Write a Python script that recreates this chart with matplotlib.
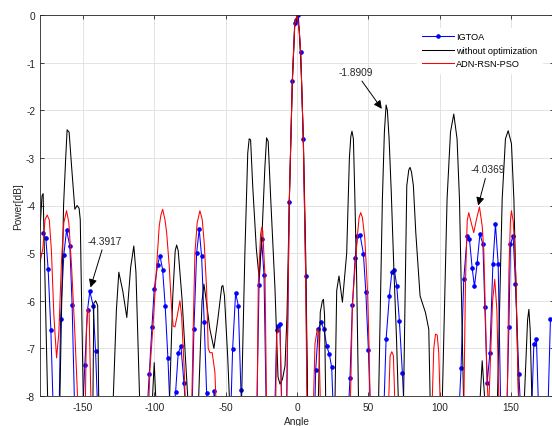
import matplotlib
matplotlib.use("Agg")
import matplotlib.pyplot as plt
import numpy as np

plt.rcParams['font.family'] = ['Liberation Sans', 'DejaVu Sans']
plt.rcParams['axes.unicode_minus'] = False

# (angle, power dB); values under -8 just run off the axes
plain_pts = np.array([
    (-180, -4.5), (-178.6, -3.8), (-177.8, -3.75), (-176.2, -6.0), (-174.6, -8.1), (-172, -9.5),
    (-166.3, -8.4), (-163.5, -4.0), (-162, -3.0), (-161, -2.41), (-159.6, -2.46),
    (-157.9, -3.17), (-155.6, -4.08), (-154, -4.0), (-152.6, -4.06), (-151.8, -4.3),
    (-150.9, -5.97), (-149.6, -8.2),
    (-146, -9.5), (-143, -8.3), (-142.3, -6.05), (-141, -6.0), (-139.6, -6.1), (-138.8, -8.3),
    (-134, -9.5), (-129, -8.3), (-126.5, -6.2), (-124.8, -5.4), (-122, -5.8), (-119.2, -6.35),
    (-116.5, -5.3), (-114.3, -4.85), (-112.8, -5.4), (-110, -8.3),
    (-106, -9.5), (-101.5, -8.2), (-100, -7.3), (-98.7, -8.2),
    (-94, -9.5), (-89.5, -8.3), (-87, -5.9), (-85.3, -4.95), (-84.3, -4.83), (-83.2, -4.95),
    (-80.5, -5.97), (-77.5, -7.5), (-76, -8.3),
    (-72, -9.5), (-69.2, -8.3), (-66.5, -6.0), (-65.2, -5.65), (-64, -5.9), (-61, -6.6),
    (-58.2, -7.0), (-55.5, -6.4), (-52.7, -5.7), (-51.9, -5.68), (-50.8, -5.9), (-48.5, -7.2),
    (-47, -8.3),
    (-43, -9.5), (-39, -8.3), (-36.5, -5.0), (-34.5, -2.9), (-33.5, -2.6), (-32.5, -2.62),
    (-31, -3.6), (-28.5, -4.9), (-26.6, -5.5), (-24.5, -4.6), (-22.5, -3.2), (-21.3, -2.58),
    (-20.2, -2.65), (-18.5, -3.8), (-15.4, -5.76), (-13.3, -7.6), (-11.9, -7.75),
    (-10.2, -7.65), (-8.4, -7.37),
    (-7, -6.3), (-5.4, -3.95), (-3.3, -1.45), (-1.6, -0.25), (0, 0), (1.5, -0.3), (3, -1.2),
    (4.6, -2.8), (6.2, -5.2), (7.2, -7.5), (8, -9.5),
    (12, -9.5), (14.8, -8.3), (16.3, -6.24), (17.8, -6.0), (18.5, -5.97), (19.3, -6.3),
    (20.2, -8.3),
    (23, -9.5), (26.5, -8.3), (27.8, -5.79), (29.4, -5.48), (31.8, -6.03), (34.8, -5.0),
    (36.7, -3.0), (37.7, -2.55), (38.5, -2.44), (39.5, -2.6), (40.5, -3.8), (41.8, -5.55),
    (43.2, -8.3),
    (48, -9.5), (54, -9.5), (57, -8.3), (59.8, -3.87), (61.2, -2.46), (62.4, -1.89),
    (63.3, -2.0), (64.5, -2.6), (66, -3.7), (67.8, -5.3), (69.7, -6.8), (71.2, -8.3),
    (73, -9.3), (74.5, -8.3), (76.9, -3.58), (78.3, -3.25), (79.2, -3.2), (80.2, -3.3),
    (81.5, -3.58), (83.2, -4.57), (86.2, -5.9), (87.8, -6.05), (90, -6.25), (92.3, -6.6),
    (93.4, -8.3),
    (97, -9.5), (101.6, -8.3), (105.1, -3.87), (107.5, -2.46), (109.8, -2.08), (112.1, -2.6),
    (113.8, -3.87), (116.8, -8.3),
    (122, -9.5), (127.8, -8.3), (129.7, -7.26), (132, -8.3),
    (136, -9.5), (140.2, -8.3), (143.7, -3.87), (146, -2.6), (147.9, -2.43), (150.2, -2.7),
    (151.9, -3.87), (155.4, -8.3),
    (157, -9.5), (158.9, -8.3), (161.5, -6.4), (162.4, -6.18), (163.3, -6.6), (164.7, -8.3),
    (170, -9.5), (180, -9.5),
])

pso_pts = np.array([
    (-180, -5.2), (-178, -4.9), (-176.5, -4.3), (-175, -4.2), (-173.5, -4.3), (-172, -4.95),
    (-170.3, -6.3), (-168.4, -7.2), (-166.8, -6.67), (-164.9, -5.13), (-163.3, -4.36),
    (-161.4, -4.11), (-159.8, -4.36), (-157.9, -5.27), (-155.6, -6.67), (-153.3, -8.3),
    (-150.5, -9.5), (-148.3, -8.3), (-147.5, -6.6), (-146.7, -6.16), (-145.6, -6.25),
    (-144.2, -8.3),
    (-140, -9.5), (-110, -9.5), (-104, -8.3), (-103, -7.44), (-100.7, -6.46), (-98.3, -5.27),
    (-96.5, -4.43), (-95.3, -4.2), (-94.1, -4.08), (-92.5, -4.29), (-91.3, -4.57),
    (-89.5, -5.27), (-87.8, -6.18), (-86.7, -6.53), (-85.5, -6.55), (-83.9, -6.32),
    (-82, -6.0), (-80.8, -6.32), (-79, -7.44), (-78, -8.3),
    (-76, -9.5), (-73.8, -8.3), (-72.7, -6.6), (-71.5, -5.0), (-69.9, -4.36), (-68, -4.11),
    (-66.4, -4.29), (-65, -4.78), (-63.3, -5.76), (-62.2, -7.0), (-61, -7.09), (-59.4, -7.09),
    (-57.5, -7.5), (-56.5, -8.3),
    (-50, -9.5), (-30, -9.5), (-28, -8.3), (-27.1, -5.65), (-25.5, -4.6), (-24.7, -4.46),
    (-24, -4.53), (-22.4, -5.5), (-21.3, -8.3),
    (-18, -9.5), (-15, -8.3), (-14.2, -6.7), (-13, -6.6), (-11.9, -6.65), (-10.7, -8.3),
    (-9, -9.0), (-7.2, -8.0), (-5.4, -3.9), (-3.3, -1.4), (-1.6, -0.2), (0, 0), (1.5, -0.3),
    (2.6, -0.8), (4.4, -2.6), (6.1, -5.5), (7, -8.3),
    (9, -9.5), (11.4, -8.3), (12.6, -6.9), (14.2, -6.6), (15.2, -6.65), (16.5, -8.3),
    (20, -9.5), (34, -9.5), (37.3, -8.3), (38.8, -6.1), (40.7, -5.27), (42.5, -4.57),
    (43.5, -4.25), (44.6, -4.15), (45.8, -4.25), (47.5, -4.7), (49.4, -5.8), (50.5, -7.0),
    (51.3, -8.3),
    (56, -9.5), (64, -8.3), (65.2, -7.16), (66.4, -7.07), (67.5, -7.15), (68.7, -8.3),
    (72, -9.5), (91, -9.5), (94.5, -8.3), (95.8, -7.0), (97, -6.7), (98.2, -6.72),
    (99.3, -7.1), (100.4, -8.3),
    (104, -9.5), (114, -9.5), (116.8, -8.3), (118, -5.6), (119.2, -4.32), (120.3, -4.15),
    (122, -4.36), (123.8, -4.57), (125.7, -4.29), (127.8, -4.03), (129.7, -4.43),
    (130.8, -4.92), (132, -6.32), (133.2, -7.72), (134.2, -8.3), (135.2, -7.5), (137, -6.0),
    (138.5, -5.55), (140, -6.2), (141.5, -8.3),
    (144, -9.5), (147.2, -8.3), (148.4, -5.4), (149.5, -4.3), (150.2, -4.11), (151.5, -4.35),
    (153.3, -5.5), (155.3, -8.3),
    (160, -9.5), (180, -9.5),
])

igtoa_pts = np.array([
    (-177.8, -4.57), (-175.9, -4.69), (-174.3, -5.34), (-172.4, -6.61), (-170.5, -8.6),
    (-168.5, -9.5), (-166.8, -8.7), (-165.6, -6.39), (-163.3, -5.03), (-161.4, -4.52),
    (-159.1, -4.85), (-157.5, -6.09), (-155.5, -8.6), (-153, -9.5), (-150.5, -8.6),
    (-148.6, -7.35), (-146.7, -6.19), (-145.1, -5.8), (-142.8, -6.1), (-141.1, -7.05),
    (-139.3, -8.6), (-137, -9.5), (-108, -9.5), (-105.5, -8.6),
    (-103.5, -7.54), (-101.6, -6.55), (-100, -5.76), (-97.6, -5.24), (-96, -5.05),
    (-94.1, -5.35), (-92.3, -6.12), (-90.4, -7.21), (-88.5, -8.6), (-86.7, -8.4),
    (-85, -7.91), (-83.2, -7.1), (-81.3, -6.95), (-79.2, -7.72), (-77.2, -8.6), (-74, -9.0),
    (-72.2, -6.6), (-70.3, -5.0), (-68.5, -4.5), (-66.8, -5.07), (-65, -6.44), (-63.3, -7.93),
    (-61, -9.0), (-59.8, -8.8), (-58, -7.89), (-56.2, -8.8), (-49, -9.5), (-47, -9.0),
    (-45.1, -7.02), (-43, -5.84), (-41.1, -6.1), (-39.3, -7.87), (-37.5, -9.0),
    (-30, -9.5), (-28.4, -8.8), (-26.6, -5.67), (-24.8, -4.71), (-23.1, -5.46), (-21.3, -8.8),
    (-17, -9.5), (-15.8, -8.6), (-14.2, -6.62), (-13.1, -6.53), (-11.9, -6.49), (-10.5, -8.6),
    (-9, -9.5), (-7.2, -8.2),
    (-5.4, -3.92), (-3.3, -1.39), (-1.6, -0.17), (-0.6, -0.1), (0.9, 0.0), (2.6, -0.78),
    (4.4, -2.6), (6.1, -5.48), (7.9, -9.4),
    (11.5, -9.5), (13.1, -7.45), (14.9, -6.6), (16.8, -6.45), (18.9, -6.6), (20.8, -6.95),
    (22.6, -7.12), (24.3, -7.4), (26, -8.8), (30, -9.5), (35.2, -8.8),
    (37.1, -7.63), (38.8, -6.09), (40.7, -5.11), (42.3, -4.65), (44.2, -4.62), (46.5, -5.01),
    (48.2, -5.81), (50, -7.03), (51.8, -8.6), (55, -9.5), (60.5, -8.6),
    (62.4, -6.81), (64.7, -5.9), (66.4, -5.4), (68.2, -5.35), (69.9, -5.7), (71.7, -6.42),
    (73.8, -7.51), (75.5, -8.6), (80, -9.5), (110, -9.5), (113, -8.6),
    (114.9, -7.42), (116.8, -5.55), (119.2, -4.64), (120.8, -4.71), (122.7, -5.32),
    (124.3, -5.7), (126.2, -5.2), (128.1, -4.6), (130.2, -4.81), (131.6, -6.14),
    (133.2, -7.72), (135.1, -7.1), (137.2, -5.23), (139, -4.39), (140.9, -5.23),
    (142.8, -8.5), (146.5, -8.8),
    (148.4, -6.56), (149.5, -4.81), (151.4, -4.64), (153, -5.65), (155.4, -7.54),
    (157.5, -8.8), (162, -9.5), (164, -8.6), (165.9, -6.91), (167.7, -6.81), (169.5, -8.6),
    (173, -9.5), (175.5, -8.6), (177.5, -6.39),
])

# data tips: (text, pointed-at point, text position)
tips = [
    ('-4.3917', (-144.6, -5.72), (-134.6, -4.74)),
    ('-1.8909', (59.4, -1.97), (41.0, -1.2)),
    ('-4.0369', (126.9, -4.0), (133.6, -3.24)),
]

fig = plt.figure(figsize=(5.52, 4.27), dpi=100)
ax = fig.add_axes([40 / 552, 30 / 427, 514 / 552, 381 / 427])

ax.plot(igtoa_pts[:, 0], igtoa_pts[:, 1], '-o', color='#0000ff', lw=0.75, ms=2.3,
        label='IGTOA')
ax.plot(plain_pts[:, 0], plain_pts[:, 1], color='k', lw=0.75, label='without optimization')
ax.plot(pso_pts[:, 0], pso_pts[:, 1], color='#ff0000', lw=0.75, label='ADN-RSN-PSO')

for txt, tip, pos in tips:
    ax.annotate(txt, xy=tip, xytext=pos, ha='center', va='center', fontsize=7.3,
                color='#262626',
                arrowprops=dict(arrowstyle='-|>', color='k', lw=0.7, mutation_scale=12,
                                shrinkA=1, shrinkB=0))

ax.set_xlim(-180, 180)
ax.set_ylim(-8, 0)
ax.set_xticks(range(-150, 151, 50))
ax.set_yticks(range(-8, 1))
ax.grid(True, color='#dedede', lw=0.6)
ax.set_axisbelow(True)
ax.tick_params(direction='in', top=True, right=True, labelsize=7.3, length=3,
               width=0.6, colors='#262626')
ax.tick_params(axis='x', pad=4.5)
for s in ax.spines.values():
    s.set_color('#262626')
    s.set_linewidth(0.6)

ax.set_xlabel('Angle', fontsize=7.3, color='#262626')
ax.xaxis.set_label_coords(0.5, -0.052)
ax.set_ylabel('Power[dB]', fontsize=7.3, color='#262626')
ax.yaxis.set_label_coords(-0.033, 0.5)

ax.legend(loc='upper right', bbox_to_anchor=(0.986, 0.979), fontsize=6.6, frameon=True,
          edgecolor='white', facecolor='white', framealpha=1, fancybox=False,
          handlelength=3.5, handletextpad=0.3, labelspacing=0.5, borderpad=0.5,
          numpoints=1)

fig.savefig('out.png', dpi=100)
